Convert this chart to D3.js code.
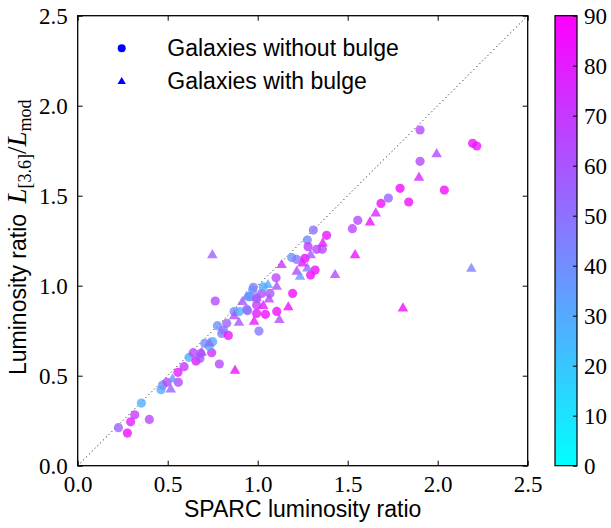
<!DOCTYPE html>
<html>
<head>
<title>SPARC luminosity ratio - D3.js</title>
<script src="https://d3js.org/d3.v7.min.js"></script>
<style>
body { margin: 0; background: #fff; }
.axis path { display: none; }
.axis line { stroke: #000; stroke-width: 1px; }
.axis text { font-family: "Liberation Serif", "Times New Roman", serif; font-size: 23px; fill: #000; }
.label { font-family: "Liberation Sans", Arial, sans-serif; font-size: 23px; fill: #000; }
.math { font-family: "Liberation Serif", "Times New Roman", serif; }
</style>
</head>
<body>
<svg width="611" height="528"></svg>

<script>
// galaxies without bulge: SPARC ratio, model ratio, colour value
const noBulgeX = [0.226, 0.276, 0.294, 0.317, 0.354, 0.398, 0.463, 0.472, 0.496, 0.559,
  0.557, 0.591, 0.619, 0.657, 0.642, 0.679, 0.706, 0.744, 0.750, 0.730,
  0.787, 0.776, 0.800, 0.809, 0.828, 0.837, 0.764, 0.869, 0.898, 0.944,
  0.950, 0.957, 0.976, 0.972, 0.994, 0.994, 0.994, 1.007, 1.043, 1.022,
  1.068, 1.031, 1.102, 1.106, 1.194, 1.189, 1.217, 1.263, 1.276, 1.309,
  1.280, 1.328, 1.359, 1.383, 1.294, 1.319, 1.526, 1.556, 1.685, 1.726,
  1.791, 1.839, 1.902, 1.902, 2.037, 2.194, 2.217, 0.939, 0.683];
const noBulgeY = [0.211, 0.181, 0.244, 0.283, 0.348, 0.257, 0.422, 0.448, 0.463, 0.463,
  0.519, 0.550, 0.602, 0.581, 0.628, 0.596, 0.680, 0.628, 0.689, 0.664,
  0.565, 0.778, 0.735, 0.754, 0.791, 0.724, 0.915, 0.856, 0.856, 0.861,
  0.939, 0.939, 0.991, 0.976, 0.846, 0.893, 0.930, 0.748, 0.841, 0.957,
  0.957, 0.994, 1.044, 0.857, 0.957, 1.156, 1.146, 1.152, 1.254, 1.309,
  1.217, 1.202, 1.202, 1.280, 1.059, 1.087, 1.317, 1.363, 1.457, 1.487,
  1.541, 1.465, 1.865, 1.691, 1.531, 1.791, 1.776, 0.869, 0.624];
const noBulgeC = [55, 85, 78, 70, 28, 65, 30, 38, 65, 65,
  80, 70, 28, 82, 65, 60, 40, 75, 30, 30,
  65, 38, 45, 50, 55, 82, 65, 40, 28, 50,
  38, 30, 45, 40, 82, 70, 65, 48, 85, 62,
  60, 30, 65, 85, 85, 38, 48, 85, 40, 50,
  70, 65, 65, 82, 85, 85, 65, 65, 85, 55,
  85, 85, 65, 65, 85, 85, 82, 50, 60];

// galaxies with bulge
const bulgeX = [0.517, 0.527, 0.689, 0.731, 0.748, 0.874, 0.869, 0.896, 0.915, 0.939,
  0.980, 0.994, 1.031, 1.063, 1.057, 1.106, 1.120, 1.170, 1.133, 1.217,
  1.235, 1.276, 1.248, 1.294, 1.361, 1.430, 1.541, 1.624, 1.656, 1.807,
  1.896, 1.994, 2.187];
const bulgeY = [0.424, 0.480, 0.628, 0.680, 1.170, 0.528, 0.831, 0.794, 0.909, 0.939,
  0.800, 0.930, 0.887, 0.924, 1.004, 0.994, 0.809, 0.880, 1.115, 1.078,
  1.050, 1.096, 1.124, 1.170, 1.235, 1.059, 1.170, 1.352, 1.402, 0.874,
  1.600, 1.731, 1.094];
const bulgeC = [55, 40, 62, 50, 55, 85, 62, 60, 60, 40,
  82, 55, 82, 65, 30, 62, 62, 85, 72, 65,
  35, 50, 82, 60, 82, 65, 85, 85, 75, 85,
  75, 65, 45];

const axisTicks = [0, 0.5, 1.0, 1.5, 2.0, 2.5];
const colorTicks = [0, 10, 20, 30, 40, 50, 60, 70, 80, 90];
const legendLabels = ["Galaxies without bulge", "Galaxies with bulge"];

const svg = d3.select("svg");
const margin = { top: 15.7, left: 77.7 };
const width = 450;
const height = 450;

const x = d3.scaleLinear().domain([0, 2.5]).range([0, width]);
const y = d3.scaleLinear().domain([0, 2.5]).range([height, 0]);
const color = d3.scaleLinear().domain([0, 90])
  .range(["#00ffff", "#ff00ff"]).interpolate(d3.interpolateRgb);

const g = svg.append("g")
  .attr("transform", `translate(${margin.left},${margin.top})`);

// ticks on all four sides, pointing inward
g.append("g").attr("class", "axis")
  .attr("transform", `translate(0,${height})`)
  .call(d3.axisBottom(x).tickValues(axisTicks).tickFormat(d3.format(".1f")).tickSizeInner(-5).tickPadding(10));
g.append("g").attr("class", "axis")
  .call(d3.axisTop(x).tickValues(axisTicks).tickFormat("").tickSizeInner(-5));
g.append("g").attr("class", "axis")
  .call(d3.axisLeft(y).tickValues(axisTicks).tickFormat(d3.format(".1f")).tickSizeInner(-5).tickPadding(10));
g.append("g").attr("class", "axis")
  .attr("transform", `translate(${width},0)`)
  .call(d3.axisRight(y).tickValues(axisTicks).tickFormat("").tickSizeInner(-5));

g.selectAll(".axis text").attr("dy", null);
g.selectAll(".axis text").each(function () {
  const t = d3.select(this);
  if (t.attr("x") !== null && +t.attr("x") < 0) t.attr("dy", "0.33em");
  else t.attr("dy", "0.72em");
});

// one to one line
g.append("line")
  .attr("x1", x(0)).attr("y1", y(0))
  .attr("x2", x(2.5)).attr("y2", y(2.5))
  .attr("stroke", "#000").attr("stroke-width", 1)
  .attr("stroke-dasharray", "1,3");

const noBulge = noBulgeX.map((d, i) => ({ x: d, y: noBulgeY[i], c: noBulgeC[i] }));
const bulge = bulgeX.map((d, i) => ({ x: d, y: bulgeY[i], c: bulgeC[i] }));

const tri = d3.symbol().type(d3.symbolTriangle).size(48);

g.selectAll(".dot")
  .data(noBulge)
  .enter()
  .append("circle")
  .attr("class", "dot")
  .attr("cx", (d) => x(d.x))
  .attr("cy", (d) => y(d.y))
  .attr("r", 4.6)
  .attr("fill", (d) => color(d.c))
  .attr("fill-opacity", 0.8);

g.selectAll(".tri")
  .data(bulge)
  .enter()
  .append("path")
  .attr("class", "tri")
  .attr("d", tri)
  .attr("transform", (d) => `translate(${x(d.x)},${y(d.y)})`)
  .attr("fill", (d) => color(d.c))
  .attr("fill-opacity", 0.8);

// frame
g.append("rect")
  .attr("width", width).attr("height", height)
  .attr("fill", "none").attr("stroke", "#000").attr("stroke-width", 1.3);

// legend
const legend = g.append("g").attr("transform", "translate(44,0)");
legend.append("circle").attr("cx", 0).attr("cy", 32.6).attr("r", 4).attr("fill", "#0000ff");
legend.append("path").attr("d", d3.symbol().type(d3.symbolTriangle).size(30))
  .attr("transform", "translate(0,66)").attr("fill", "#0000ff");
legend.selectAll(".legtext")
  .data(legendLabels)
  .enter()
  .append("text")
  .attr("class", "label")
  .attr("x", 45.6)
  .attr("y", (d, i) => 40 + i * 33.3)
  .text((d) => d);

// axis labels
svg.append("text")
  .attr("class", "label")
  .attr("x", margin.left + width / 2)
  .attr("y", 517)
  .attr("text-anchor", "middle")
  .text("SPARC luminosity ratio");

const ylab = svg.append("text")
  .attr("class", "label")
  .attr("transform", "translate(25.5,375) rotate(-90)");
ylab.append("tspan").text("Luminosity ratio ");
ylab.append("tspan").attr("class", "math").attr("font-style", "italic").attr("font-size", 27).attr("dx", 4).text("L");
ylab.append("tspan").attr("class", "math").attr("font-size", 18).attr("dy", 5).text("[3.6]");
ylab.append("tspan").attr("class", "math").attr("font-size", 27).attr("dy", -5).text("/");
ylab.append("tspan").attr("class", "math").attr("font-style", "italic").attr("font-size", 27).text("L");
ylab.append("tspan").attr("class", "math").attr("font-size", 18).attr("dy", 5).text("mod");

// colour bar
const cb = svg.append("g").attr("transform", "translate(555,15.7)");
const cbW = 22;
const cy = d3.scaleLinear().domain([0, 90]).range([height, 0]);

const grad = svg.append("defs").append("linearGradient")
  .attr("id", "cool").attr("x1", 0).attr("y1", 1).attr("x2", 0).attr("y2", 0);
grad.selectAll("stop")
  .data(colorTicks)
  .enter()
  .append("stop")
  .attr("offset", (d) => d / 90)
  .attr("stop-color", (d) => color(d));

cb.append("rect")
  .attr("width", cbW).attr("height", height)
  .attr("fill", "url(#cool)")
  .attr("stroke", "#000").attr("stroke-width", 1.2);

cb.append("g").attr("class", "axis")
  .attr("transform", `translate(${cbW},0)`)
  .call(d3.axisRight(cy).tickValues(colorTicks).tickSizeInner(-4).tickPadding(7))
  .selectAll("text").attr("dy", "0.33em");
</script>
</body>
</html>
